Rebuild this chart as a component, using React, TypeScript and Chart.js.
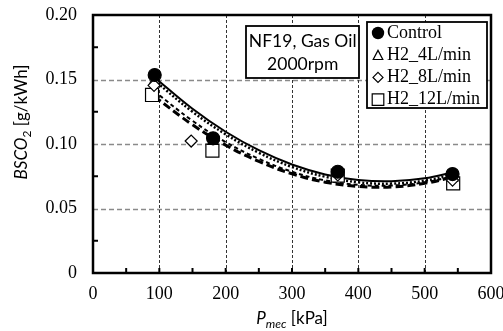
import React, { useEffect, useRef } from 'react';
import { Chart, registerables } from 'chart.js';

Chart.register(...registerables);

// ---- data ----
const xTicks = [0, 100, 200, 300, 400, 500, 600];
const yTicks = [0, 0.05, 0.1, 0.15, 0.2];
const minorX = [50, 100, 150, 200, 250, 300, 350, 400, 450, 500, 550];
const minorY = [0.025, 0.075, 0.125, 0.175];

const seriesLabels = ['Control', 'H2_4L/min', 'H2_8L/min', 'H2_12L/min'];

const controlX = [93, 181, 369, 542];
const controlY = [0.1535, 0.1044, 0.0785, 0.0767];
const h4X = [93, 181, 369, 542];
const h4Y = [0.149, 0.102, 0.077, 0.0735];
const h8X = [92, 148, 369, 542];
const h8Y = [0.1455, 0.1023, 0.076, 0.072];
const h12X = [89, 180, 369, 543];
const h12Y = [0.138, 0.0948, 0.0755, 0.0695];

const trendX = [92, 150, 200, 250, 300, 350, 400, 450, 500, 545];
const controlTrend = [0.152, 0.1273, 0.1095, 0.0952, 0.0841, 0.0764, 0.0721, 0.0711, 0.0734, 0.0784];
const h4Trend = [0.1495, 0.125, 0.1075, 0.0932, 0.0822, 0.0746, 0.0703, 0.0693, 0.0716, 0.0766];
const h8Trend = [0.141, 0.118, 0.1015, 0.0885, 0.0785, 0.0718, 0.0683, 0.0678, 0.0703, 0.0752];
const h12Trend = [0.137, 0.1149, 0.0991, 0.0865, 0.0769, 0.0704, 0.0671, 0.0667, 0.0695, 0.0747];

const noteLines = ['NF19, Gas Oil', '2000rpm'];

const SERIF = '"Liberation Serif", "Times New Roman", serif';
const SANS = 'Lato, "Noto Sans", sans-serif';

const pts = (xs: number[], ys: number[]) => xs.map((x, i) => ({ x, y: ys[i] }));

function drawShape(ctx: CanvasRenderingContext2D, style: string, cx: number, cy: number, s: number) {
  ctx.beginPath();
  if (style === 'circle') {
    ctx.arc(cx, cy, s, 0, Math.PI * 2);
    ctx.fillStyle = '#000';
    ctx.fill();
    return;
  }
  if (style === 'triangle') {
    ctx.moveTo(cx, cy - s);
    ctx.lineTo(cx + s, cy + s * 0.9);
    ctx.lineTo(cx - s, cy + s * 0.9);
    ctx.closePath();
  } else if (style === 'diamond') {
    ctx.moveTo(cx, cy - s);
    ctx.lineTo(cx + s, cy);
    ctx.lineTo(cx, cy + s);
    ctx.lineTo(cx - s, cy);
    ctx.closePath();
  } else {
    ctx.rect(cx - s, cy - s, 2 * s, 2 * s);
  }
  ctx.fillStyle = '#fff';
  ctx.fill();
  ctx.strokeStyle = '#000';
  ctx.lineWidth = 1.2;
  ctx.stroke();
}

const decor = {
  id: 'decor',
  beforeDatasetsDraw(chart: any) {
    const { ctx, chartArea: a, scales } = chart;
    const xs = scales.x;
    const ys = scales.y;
    ctx.save();
    ctx.strokeStyle = '#8a8a8a';
    ctx.lineWidth = 1.3;
    ctx.setLineDash([5, 3]);
    yTicks.slice(1, -1).forEach((v) => {
      const py = Math.round(ys.getPixelForValue(v)) + 0.5;
      ctx.beginPath();
      ctx.moveTo(a.left, py);
      ctx.lineTo(a.right, py);
      ctx.stroke();
    });
    ctx.strokeStyle = '#333';
    ctx.lineWidth = 1;
    ctx.setLineDash([3, 2]);
    xTicks.slice(1, -1).forEach((v) => {
      const px = Math.round(xs.getPixelForValue(v)) + 0.5;
      ctx.beginPath();
      ctx.moveTo(px, a.top);
      ctx.lineTo(px, a.bottom);
      ctx.stroke();
    });
    ctx.restore();
  },
  afterDatasetsDraw(chart: any) {
    const { ctx, chartArea: a, scales } = chart;
    const xs = scales.x;
    const ys = scales.y;
    ctx.save();
    ctx.setLineDash([]);
    // minor ticks
    ctx.strokeStyle = '#000';
    ctx.lineWidth = 2;
    minorX.forEach((v) => {
      const px = xs.getPixelForValue(v);
      ctx.beginPath();
      ctx.moveTo(px, a.bottom);
      ctx.lineTo(px, a.bottom - 5);
      ctx.stroke();
    });
    minorY.forEach((v) => {
      const py = ys.getPixelForValue(v);
      ctx.beginPath();
      ctx.moveTo(a.left, py);
      ctx.lineTo(a.left + 5, py);
      ctx.stroke();
    });
    // frame
    ctx.lineWidth = 2.5;
    ctx.strokeRect(a.left, a.top, a.right - a.left, a.bottom - a.top);

    // note box
    ctx.fillStyle = '#fff';
    ctx.fillRect(246, 26, 113, 52);
    ctx.lineWidth = 1.8;
    ctx.strokeStyle = '#000';
    ctx.strokeRect(246, 26, 113, 52);
    ctx.fillStyle = '#000';
    ctx.font = `17.5px ${SANS}`;
    ctx.textAlign = 'center';
    ctx.textBaseline = 'alphabetic';
    ctx.fillText(noteLines[0], 302.7, 47.3);
    ctx.fillText(noteLines[1], 302.7, 70);

    // legend box
    ctx.fillStyle = '#fff';
    ctx.fillRect(367, 22, 120, 86);
    ctx.strokeRect(367, 22, 120, 86);
    const styles = ['circle', 'triangle', 'diamond', 'rect'];
    const sizes = [6.2, 4.8, 5, 5.8];
    ctx.font = `18px ${SERIF}`;
    ctx.textAlign = 'left';
    seriesLabels.forEach((lab, i) => {
      const cy = 33 + i * 22.2;
      drawShape(ctx, styles[i], 378, cy, sizes[i]);
      ctx.fillStyle = '#000';
      ctx.fillText(lab, 387, 37.5 + i * 22.3);
    });

    // x title
    const big = 17;
    const small = 12;
    ctx.textAlign = 'left';
    ctx.fillStyle = '#000';
    ctx.font = `italic ${big}px ${SANS}`;
    const wP = ctx.measureText('P').width;
    ctx.font = `italic ${small}px ${SANS}`;
    const wM = ctx.measureText('mec').width;
    ctx.font = `${big}px ${SANS}`;
    const wK = ctx.measureText(' [kPa]').width;
    let sx = 292 - (wP + wM + wK) / 2;
    const by = 324;
    ctx.font = `italic ${big}px ${SANS}`;
    ctx.fillText('P', sx, by);
    sx += wP;
    ctx.font = `italic ${small}px ${SANS}`;
    ctx.fillText('mec', sx, by + 4);
    sx += wM;
    ctx.font = `${big}px ${SANS}`;
    ctx.fillText(' [kPa]', sx, by);

    // y title
    ctx.save();
    ctx.translate(27, 122);
    ctx.rotate(-Math.PI / 2);
    ctx.font = `italic ${big}px ${SANS}`;
    const wB = ctx.measureText('BSCO').width;
    ctx.font = `${small}px ${SANS}`;
    const w2 = ctx.measureText('2').width;
    ctx.font = `${big}px ${SANS}`;
    const wU = ctx.measureText(' [g/kWh]').width;
    let tx = -(wB + w2 + wU) / 2;
    ctx.font = `italic ${big}px ${SANS}`;
    ctx.fillText('BSCO', tx, 0);
    tx += wB;
    ctx.font = `${small}px ${SANS}`;
    ctx.fillText('2', tx, 4);
    tx += w2;
    ctx.font = `${big}px ${SANS}`;
    ctx.fillText(' [g/kWh]', tx, 0);
    ctx.restore();

    ctx.restore();
  },
};

export default function App() {
  const ref = useRef<HTMLCanvasElement>(null);
  useEffect(() => {
    if (!ref.current) return;
    const marker = (label: string, xs: number[], ys: number[], style: any, r: number, fill: string, order: number) => ({
      type: 'scatter' as const,
      label,
      data: pts(xs, ys),
      pointStyle: style,
      pointRadius: r,
      pointBackgroundColor: fill,
      pointBorderColor: '#000',
      pointBorderWidth: 1.2,
      showLine: false,
      order,
    });
    const trend = (label: string, ys: number[], dash: number[], width: number, order: number) => ({
      type: 'line' as const,
      label,
      data: pts(trendX, ys),
      borderColor: '#000',
      borderWidth: width,
      borderDash: dash,
      pointRadius: 0,
      tension: 0.4,
      fill: false,
      order,
    });
    const chart = new Chart(ref.current, {
      type: 'scatter',
      data: {
        datasets: [
          marker(seriesLabels[0], controlX, controlY, 'circle', 6.5, '#000', 1),
          marker(seriesLabels[1], h4X, h4Y, 'triangle', 6, '#fff', 3),
          marker(seriesLabels[2], h8X, h8Y, 'rectRot', 6, '#fff', 2),
          marker(seriesLabels[3], h12X, h12Y, 'rect', 9.2, '#fff', 4),
          trend(seriesLabels[0], controlTrend, [], 2, 10),
          trend(seriesLabels[1], h4Trend, [2, 2], 2.5, 11),
          trend(seriesLabels[2], h8Trend, [4, 3], 2, 12),
          trend(seriesLabels[3], h12Trend, [8, 4], 3, 13),
        ] as any,
      },
      options: {
        animation: false,
        responsive: false,
        events: [],
        layout: { padding: { left: 0, right: 12, top: 15, bottom: 0 } },
        plugins: { legend: { display: false }, tooltip: { enabled: false } },
        scales: {
          x: {
            type: 'linear',
            min: 0,
            max: 600,
            grid: { display: false, drawTicks: false },
            border: { display: false },
            ticks: {
              stepSize: 100,
              padding: 10,
              color: '#000',
              font: { family: SERIF, size: 18 },
              maxRotation: 0,
              callback: (v: any) => String(v),
            },
            afterFit: (s: any) => {
              s.height = 58;
              s.paddingLeft = 0;
              s.paddingRight = 0;
            },
          },
          y: {
            type: 'linear',
            min: 0,
            max: 0.2,
            grid: { display: false, drawTicks: false },
            border: { display: false },
            ticks: {
              stepSize: 0.05,
              padding: 16,
              color: '#000',
              font: { family: SERIF, size: 18 },
              callback: (v: any) => (Math.abs(v) < 1e-9 ? '0' : Number(v).toFixed(2)),
            },
            afterFit: (s: any) => {
              s.width = 93;
              s.paddingTop = 0;
              s.paddingBottom = 0;
            },
          },
        },
      },
      plugins: [decor],
    });
    return () => chart.destroy();
  }, []);
  return (
    <div style={{ position: 'fixed', left: 0, top: 0, width: 503, height: 331, background: '#fff' }}>
      <canvas ref={ref} width={503} height={331} style={{ display: 'block' }} />
    </div>
  );
}
